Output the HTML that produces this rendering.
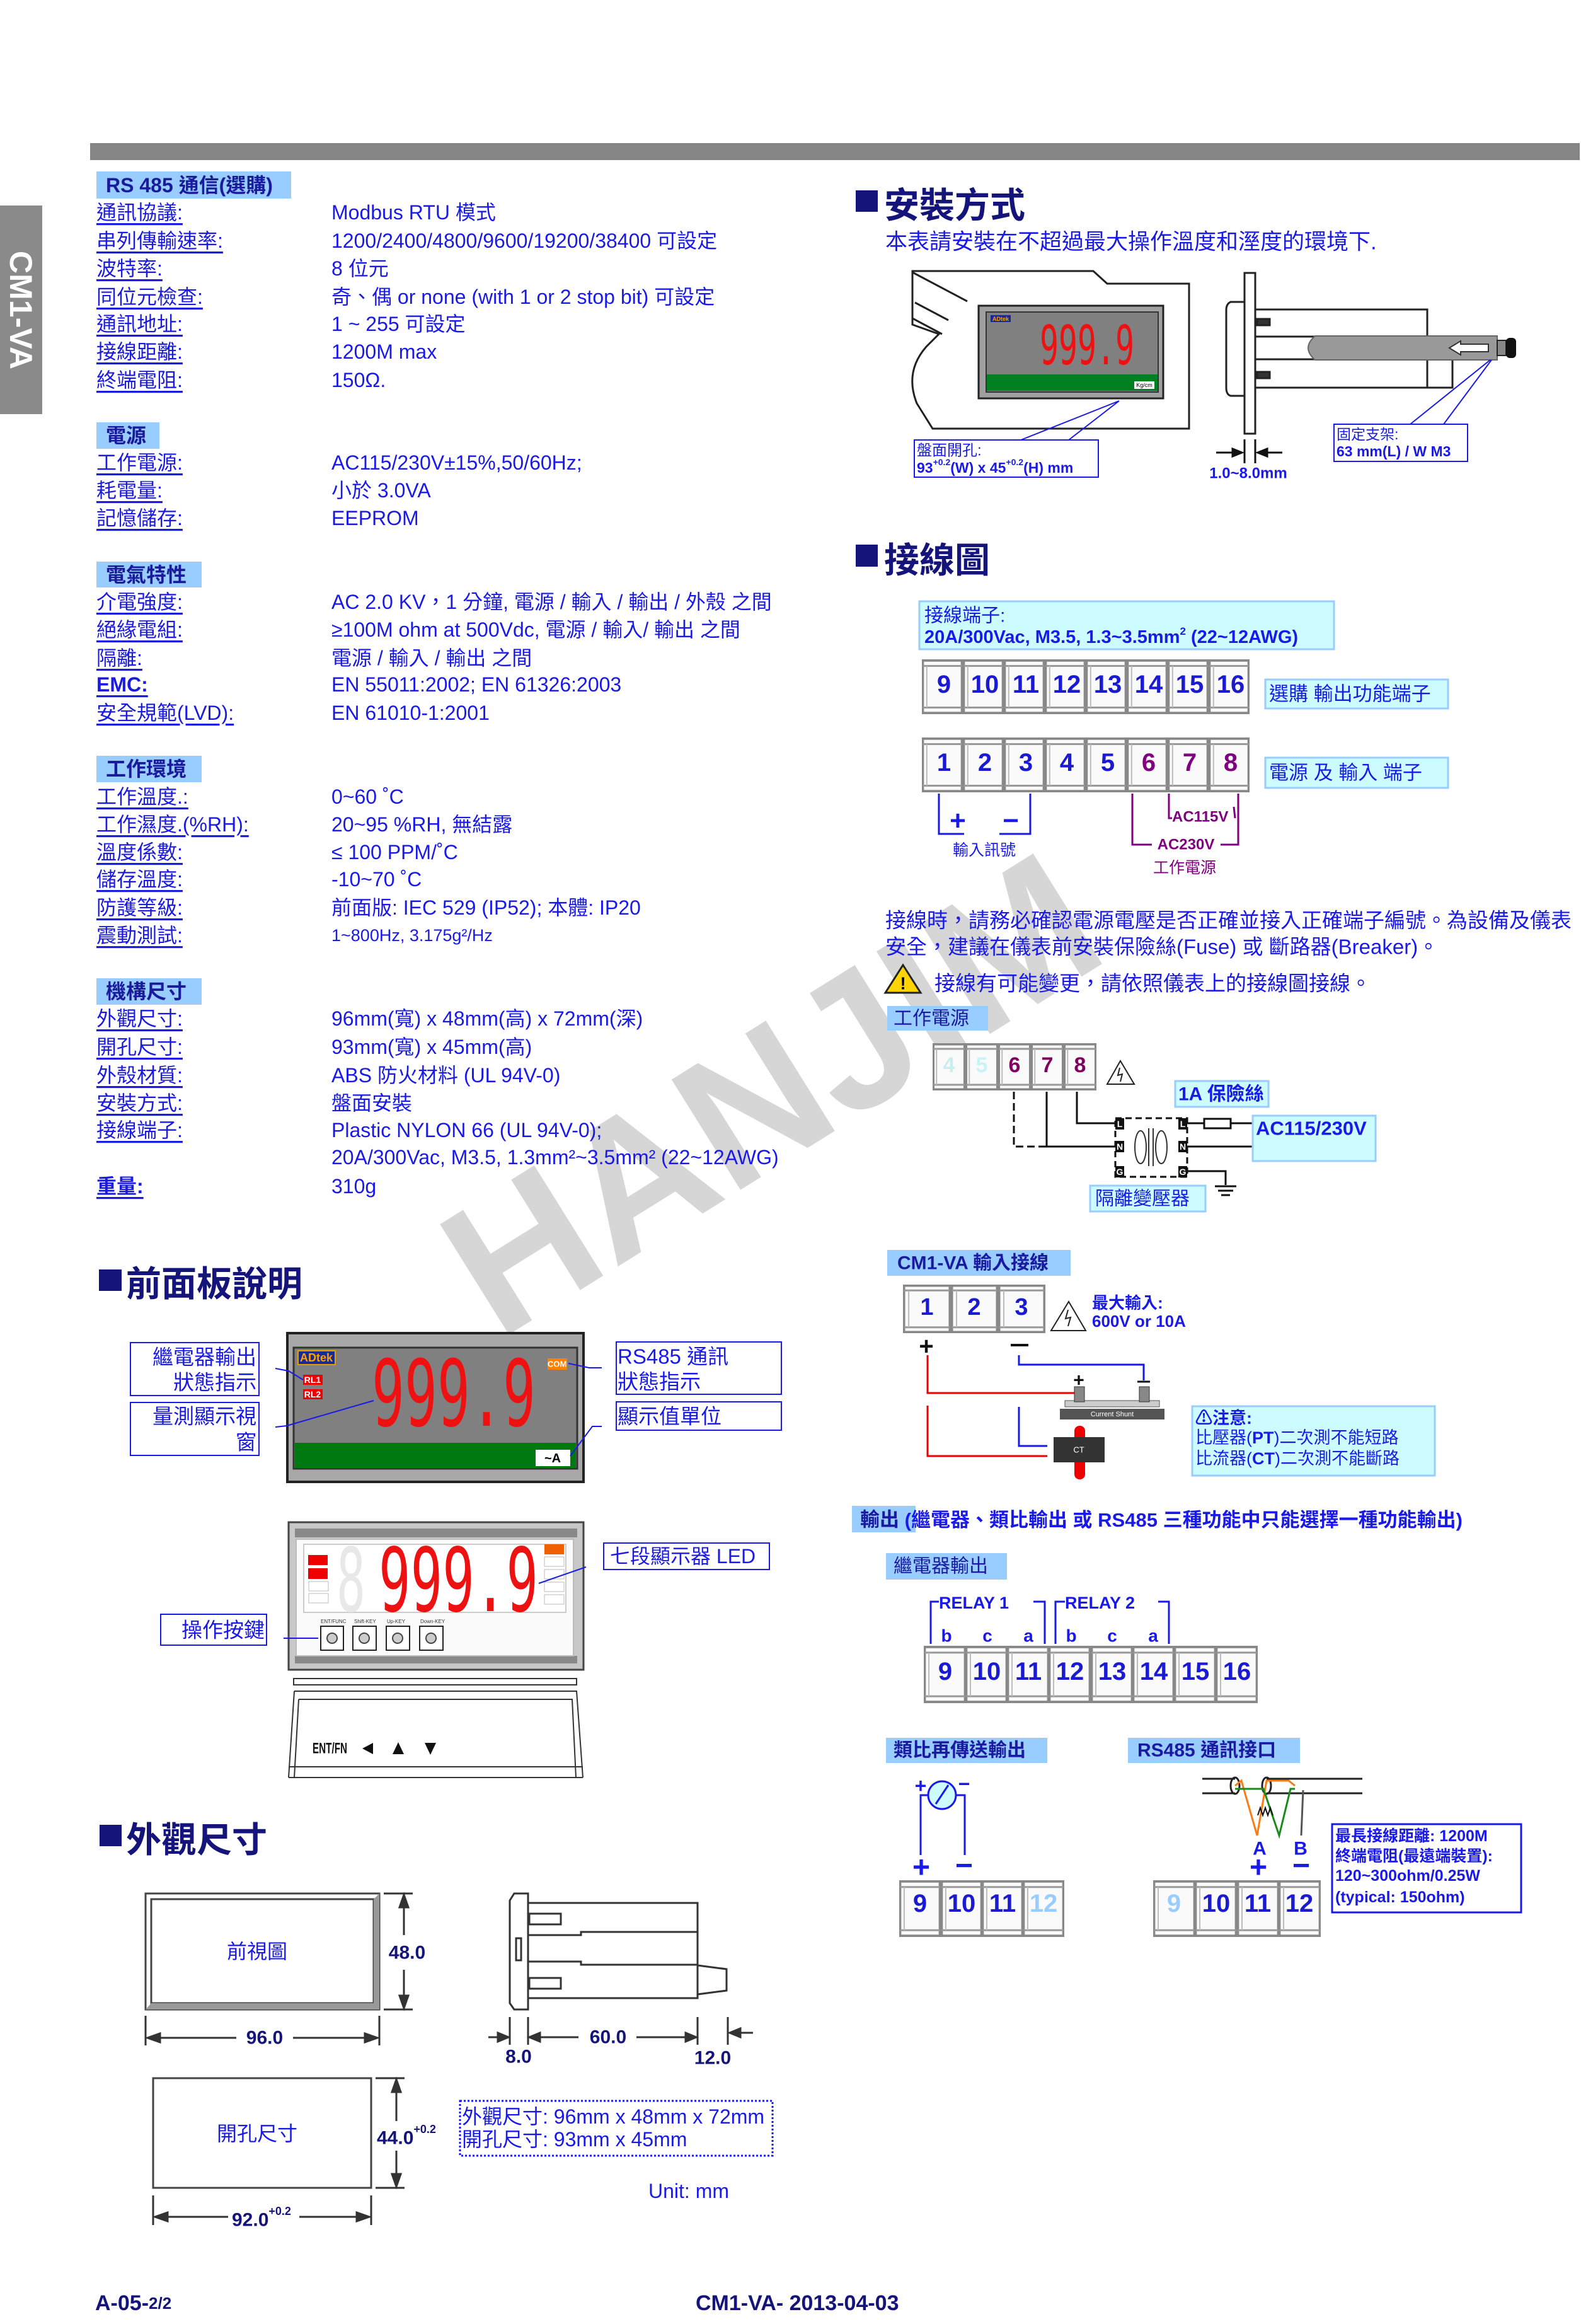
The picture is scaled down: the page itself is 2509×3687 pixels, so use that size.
<!DOCTYPE html>
<html><head><meta charset="utf-8">
<style>
html,body{margin:0;padding:0;background:#fff}
svg{display:block}
text{font-family:"Liberation Sans","Noto Sans CJK TC",sans-serif}
.lb{fill:#1a1ae0;font-size:32px;text-decoration:underline}
.v{fill:#1a1ae8;font-size:32px}
.hd{fill:#1a1a9c;font-size:32px;font-weight:bold}
.tt{fill:#14147a;font-size:56px;font-weight:bold}
.num{fill:#1a1ad0;font-size:40px;font-weight:bold}
.bl{fill:#1a1ae8}
.seg{font-family:"DejaVu Sans Mono",monospace;fill:#ee1111}
</style></head>
<body>
<svg width="2509" height="3687" viewBox="0 0 2509 3687" xmlns="http://www.w3.org/2000/svg">
<defs>
<symbol id="cell" viewBox="0 0 100 100" preserveAspectRatio="none">
<rect x="2" y="2" width="96" height="96" fill="#fafafa" stroke="#888" stroke-width="4" vector-effect="non-scaling-stroke"/>
<line x1="2" y1="12" x2="98" y2="12" stroke="#999" stroke-width="3" vector-effect="non-scaling-stroke"/>
<line x1="2" y1="88" x2="98" y2="88" stroke="#999" stroke-width="3" vector-effect="non-scaling-stroke"/>
<line x1="12" y1="12" x2="12" y2="88" stroke="#bbb" stroke-width="2" vector-effect="non-scaling-stroke"/>
</symbol>
</defs>

<!-- watermark -->
<text x="1220" y="1840" transform="rotate(-32 1220 1730)" text-anchor="middle" style="font-size:300px;font-weight:bold;fill:#d6d6d6">HANJIM</text>

<!-- top bar & tab -->
<rect x="143" y="227" width="2364" height="27" fill="#858585"/>
<rect x="0" y="326" width="67" height="331" fill="#8a8a8a"/>
<text x="33" y="492" transform="rotate(90 33 492)" text-anchor="middle" dominant-baseline="central" style="font-size:50px;font-weight:bold;fill:#fff">CM1-VA</text>

<!-- LEFT SPEC -->
<rect x="153" y="272" width="309" height="43" fill="#99ccff"/>
<text x="168" y="294" dominant-baseline="central" class="hd">RS 485 通信(選購)</text>
<g dominant-baseline="central">
<text x="153" y="337" class="lb">通訊協議:</text><text x="526" y="337" class="v">Modbus RTU  模式</text>
<text x="153" y="382" class="lb">串列傳輸速率:</text><text x="526" y="382" class="v">1200/2400/4800/9600/19200/38400 可設定</text>
<text x="153" y="426" class="lb">波特率:</text><text x="526" y="426" class="v">8 位元</text>
<text x="153" y="471" class="lb">同位元檢查:</text><text x="526" y="471" class="v">奇、偶  or none (with 1 or 2 stop bit)  可設定</text>
<text x="153" y="514" class="lb">通訊地址:</text><text x="526" y="514" class="v">1 ~ 255  可設定</text>
<text x="153" y="558" class="lb">接線距離:</text><text x="526" y="558" class="v">1200M max</text>
<text x="153" y="603" class="lb">終端電阻:</text><text x="526" y="603" class="v">150Ω.</text>
</g>
<rect x="153" y="670" width="100" height="42" fill="#99ccff"/>
<text x="168" y="691" dominant-baseline="central" class="hd">電源</text>
<g dominant-baseline="central">
<text x="153" y="734" class="lb">工作電源:</text><text x="526" y="734" class="v">AC115/230V±15%,50/60Hz;</text>
<text x="153" y="778" class="lb">耗電量:</text><text x="526" y="778" class="v">小於 3.0VA</text>
<text x="153" y="822" class="lb">記憶儲存:</text><text x="526" y="822" class="v">EEPROM</text>
</g>
<rect x="153" y="891" width="167" height="41" fill="#99ccff"/>
<text x="168" y="912" dominant-baseline="central" class="hd">電氣特性</text>
<g dominant-baseline="central">
<text x="153" y="955" class="lb">介電強度:</text><text x="526" y="955" class="v">AC 2.0 KV，1 分鐘,  電源 / 輸入 / 輸出 / 外殼  之間</text>
<text x="153" y="999" class="lb">絕緣電組:</text><text x="526" y="999" class="v">≥100M ohm at 500Vdc,  電源  /  輸入/  輸出  之間</text>
<text x="153" y="1044" class="lb">隔離:</text><text x="526" y="1044" class="v">電源  /  輸入  /  輸出  之間</text>
<text x="153" y="1086" class="lb" font-weight="bold">EMC:</text><text x="526" y="1086" class="v">EN 55011:2002; EN 61326:2003</text>
<text x="153" y="1131" class="lb">安全規範(LVD):</text><text x="526" y="1131" class="v">EN 61010-1:2001</text>
</g>
<rect x="153" y="1199" width="167" height="42" fill="#99ccff"/>
<text x="168" y="1220" dominant-baseline="central" class="hd">工作環境</text>
<g dominant-baseline="central">
<text x="153" y="1264" class="lb">工作溫度.:</text><text x="526" y="1264" class="v">0~60 ˚C</text>
<text x="153" y="1308" class="lb">工作濕度.(%RH):</text><text x="526" y="1308" class="v">20~95 %RH,  無結露</text>
<text x="153" y="1352" class="lb">溫度係數:</text><text x="526" y="1352" class="v">≤ 100 PPM/˚C</text>
<text x="153" y="1395" class="lb">儲存溫度:</text><text x="526" y="1395" class="v">-10~70 ˚C</text>
<text x="153" y="1440" class="lb">防護等級:</text><text x="526" y="1440" class="v">前面版: IEC 529 (IP52);  本體: IP20</text>
<text x="153" y="1484" class="lb">震動測試:</text><text x="526" y="1484" class="v" style="font-size:27px">1~800Hz, 3.175g²/Hz</text>
</g>
<rect x="153" y="1552" width="167" height="42" fill="#99ccff"/>
<text x="168" y="1573" dominant-baseline="central" class="hd">機構尺寸</text>
<g dominant-baseline="central">
<text x="153" y="1616" class="lb">外觀尺寸:</text><text x="526" y="1616" class="v">96mm(寬) x 48mm(高) x 72mm(深)</text>
<text x="153" y="1661" class="lb">開孔尺寸:</text><text x="526" y="1661" class="v">93mm(寬) x 45mm(高)</text>
<text x="153" y="1706" class="lb">外殼材質:</text><text x="526" y="1706" class="v">ABS  防火材料  (UL 94V-0)</text>
<text x="153" y="1750" class="lb">安裝方式:</text><text x="526" y="1750" class="v">盤面安裝</text>
<text x="153" y="1793" class="lb">接線端子:</text><text x="526" y="1793" class="v">Plastic NYLON 66 (UL 94V-0);</text>
<text x="526" y="1836" class="v">20A/300Vac, M3.5, 1.3mm²~3.5mm² (22~12AWG)</text>
<text x="153" y="1882" class="lb" font-weight="bold">重量:</text><text x="526" y="1882" class="v">310g</text>
</g>

<!-- FRONT PANEL -->
<rect x="157" y="2014" width="36" height="34" fill="#14147a"/>
<text x="200" y="2037" dominant-baseline="central" class="tt">前面板說明</text>
<rect x="456" y="2115" width="470" height="236" fill="#a8a8a8" stroke="#222" stroke-width="4"/>
<rect x="466" y="2138" width="450" height="192" fill="#808080" stroke="#333" stroke-width="3"/>
<rect x="468" y="2289" width="446" height="40" fill="#007a10"/>
<rect x="473" y="2143" width="59" height="22" fill="#1a2a90" stroke="#e0a000" stroke-width="2"/>
<text x="502" y="2154" text-anchor="middle" dominant-baseline="central" style="font-size:18px;font-weight:bold;fill:#ffa000">ADtek</text>
<rect x="481" y="2181" width="31" height="16" fill="#e00"/><text x="496" y="2189" text-anchor="middle" dominant-baseline="central" style="font-size:14px;font-weight:bold;fill:#fff">RL1</text>
<rect x="481" y="2204" width="31" height="16" fill="#e00"/><text x="496" y="2212" text-anchor="middle" dominant-baseline="central" style="font-size:14px;font-weight:bold;fill:#fff">RL2</text>
<rect x="869" y="2155" width="31" height="18" fill="#ff8000"/><text x="884" y="2164" text-anchor="middle" dominant-baseline="central" style="font-size:13px;font-weight:bold;fill:#fff">COM</text>
<text x="590" y="2262" class="seg" textLength="260" lengthAdjust="spacingAndGlyphs" style="font-size:146px">999.9</text>
<rect x="850" y="2300" width="55" height="26" fill="#fff"/><text x="877" y="2314" text-anchor="middle" dominant-baseline="central" style="font-size:20px;font-weight:bold;fill:#000">~A</text>
<g fill="none" stroke="#1a1ae8" stroke-width="2">
<rect x="207" y="2130" width="204" height="84"/><rect x="207" y="2225" width="204" height="84"/>
<rect x="978" y="2129" width="262" height="83"/><rect x="978" y="2224" width="262" height="45"/>
<path d="M437 2171 L458 2175 L481 2189"/><path d="M437 2264 L455 2262 L593 2222"/>
<path d="M902 2163 L935 2170 L955 2170"/><path d="M955 2263 L940 2263 L905 2310"/>
</g>
<g dominant-baseline="central" class="bl" style="font-size:33px" text-anchor="end">
<text x="407" y="2153">繼電器輸出</text><text x="407" y="2193">狀態指示</text>
<text x="407" y="2247">量測顯示視</text><text x="407" y="2288">窗</text>
</g>
<g dominant-baseline="central" class="bl" style="font-size:33px">
<text x="980" y="2152">RS485 通訊</text><text x="980" y="2192">狀態指示</text>
<text x="980" y="2247">顯示值單位</text>
</g>
<!-- meter 2 -->
<rect x="458" y="2415" width="468" height="234" fill="#c8c8c8" stroke="#444" stroke-width="3"/>
<rect x="468" y="2425" width="448" height="14" fill="#888"/>
<rect x="468" y="2627" width="448" height="12" fill="#888"/>
<rect x="470" y="2442" width="440" height="185" fill="#fafafa" stroke="#bbb" stroke-width="2"/>
<rect x="482" y="2450" width="416" height="108" fill="#fff" stroke="#ccc" stroke-width="2"/>
<rect x="489" y="2467" width="31" height="16" fill="#e00"/><rect x="489" y="2488" width="31" height="17" fill="#e00"/>
<rect x="490" y="2509" width="31" height="15" fill="none" stroke="#bbb"/><rect x="490" y="2528" width="31" height="15" fill="none" stroke="#bbb"/>
<rect x="864" y="2450" width="31" height="16" fill="#f06000"/>
<rect x="864" y="2470" width="31" height="15" fill="none" stroke="#bbb"/><rect x="864" y="2490" width="31" height="15" fill="none" stroke="#bbb"/><rect x="864" y="2510" width="31" height="15" fill="none" stroke="#bbb"/><rect x="864" y="2530" width="31" height="15" fill="none" stroke="#bbb"/>
<text x="534" y="2556" class="seg" textLength="46" lengthAdjust="spacingAndGlyphs" style="font-size:140px;fill:#e8e8e8">8</text>
<text x="601" y="2556" class="seg" textLength="253" lengthAdjust="spacingAndGlyphs" style="font-size:140px">999.9</text>
<g style="font-size:8px;fill:#333"><text x="509" y="2575">ENT/FUNC</text><text x="562" y="2575">Shift-KEY</text><text x="614" y="2575">Up-KEY</text><text x="667" y="2575">Down-KEY</text></g>
<g fill="#fff" stroke="#222" stroke-width="2">
<rect x="509" y="2580" width="36" height="38"/><rect x="560" y="2580" width="37" height="38"/><rect x="613" y="2580" width="37" height="38"/><rect x="666" y="2580" width="37" height="38"/>
</g>
<g fill="#ccc" stroke="#444" stroke-width="2"><circle cx="527" cy="2599" r="8"/><circle cx="578" cy="2599" r="8"/><circle cx="631" cy="2599" r="8"/><circle cx="684" cy="2599" r="8"/></g>
<rect x="958" y="2448" width="263" height="42" fill="none" stroke="#1a1ae8" stroke-width="2"/>
<text x="968" y="2469" dominant-baseline="central" class="bl" style="font-size:32px">七段顯示器 LED</text>
<line x1="930" y1="2486" x2="855" y2="2512" stroke="#1a1ae8" stroke-width="2"/>
<rect x="255" y="2561" width="168" height="49" fill="none" stroke="#1a1ae8" stroke-width="2"/>
<text x="420" y="2586" text-anchor="end" dominant-baseline="central" class="bl" style="font-size:33px">操作按鍵</text>
<line x1="450" y1="2599" x2="505" y2="2599" stroke="#1a1ae8" stroke-width="2"/>
<!-- keyboard -->
<g fill="none" stroke="#333" stroke-width="2">
<rect x="466" y="2663" width="449" height="10"/>
<path d="M467 2683 L915 2683 L925 2820 M467 2683 L458 2820"/>
<path d="M474 2696 L908 2696 L914 2820 M474 2696 L467 2820"/>
<line x1="458" y1="2803" x2="925" y2="2803"/><line x1="458" y1="2820" x2="925" y2="2820"/>
</g>
<text x="496" y="2774" dominant-baseline="central" textLength="55" lengthAdjust="spacingAndGlyphs" style="font-size:24px;font-weight:bold;fill:#111">ENT/FN</text>
<g fill="#111"><path d="M575 2774 L592 2765 L592 2783Z"/><path d="M632 2764 L623 2783 L641 2783Z"/><path d="M683 2784 L674 2765 L692 2765Z"/></g>

<!-- DIMENSIONS -->
<rect x="158" y="2895" width="35" height="34" fill="#14147a"/>
<text x="200" y="2919" dominant-baseline="central" class="tt">外觀尺寸</text>
<rect x="231" y="3004" width="371" height="184" fill="#fff" stroke="#444" stroke-width="3"/>
<rect x="240" y="3013" width="353" height="165" fill="none" stroke="#444" stroke-width="3"/>
<path d="M593 3013 L602 3004 L602 3188 L593 3178Z M240 3178 L593 3178 L602 3188 L231 3188Z" fill="#999"/>
<text x="408" y="3096" text-anchor="middle" dominant-baseline="central" class="bl" style="font-size:32px">前視圖</text>
<g stroke="#333" stroke-width="3" fill="#333">
<line x1="609" y1="3004" x2="655" y2="3004"/><line x1="609" y1="3188" x2="655" y2="3188"/>
<line x1="641" y1="3015" x2="641" y2="3070"/><line x1="641" y1="3125" x2="641" y2="3178"/>
<path d="M641 3006 L634 3026 L648 3026Z M641 3186 L634 3166 L648 3166Z"/>
<line x1="231" y1="3198" x2="231" y2="3245"/><line x1="602" y1="3198" x2="602" y2="3245"/>
<line x1="240" y1="3233" x2="375" y2="3233"/><line x1="465" y1="3233" x2="592" y2="3233"/>
<path d="M234 3233 L254 3226 L254 3240Z M599 3233 L579 3226 L579 3240Z"/>
</g>
<text x="646" y="3098" text-anchor="middle" dominant-baseline="central" style="font-size:30px;font-weight:bold;fill:#14147a">48.0</text>
<text x="420" y="3233" text-anchor="middle" dominant-baseline="central" style="font-size:30px;font-weight:bold;fill:#14147a">96.0</text>
<!-- side view -->
<g fill="#fff" stroke="#333" stroke-width="3">
<path d="M838 3004 L816 3004 L809 3015 L809 3178 L816 3188 L838 3188Z"/>
<rect x="838" y="3019" width="269" height="151"/>
<path d="M1107 3118 L1153 3124 L1153 3158 L1107 3164Z"/>
</g>
<g stroke="#333" stroke-width="3" fill="none">
<path d="M838 3070 L922 3070 L922 3065 L1107 3065"/><path d="M838 3112 L922 3112 L922 3117 L1107 3117"/>
<rect x="840" y="3036" width="50" height="17"/><rect x="840" y="3138" width="50" height="17"/>
<rect x="819" y="3075" width="8" height="35"/>
</g>
<g stroke="#333" stroke-width="3" fill="#333">
<line x1="809" y1="3200" x2="809" y2="3244"/><line x1="838" y1="3200" x2="838" y2="3244"/>
<line x1="1107" y1="3200" x2="1107" y2="3244"/><line x1="1155" y1="3200" x2="1155" y2="3244"/>
<line x1="775" y1="3232" x2="800" y2="3232"/><path d="M807 3232 L790 3225 L790 3239Z"/>
<line x1="845" y1="3232" x2="918" y2="3232"/><path d="M840 3232 L857 3225 L857 3239Z"/>
<line x1="1010" y1="3232" x2="1100" y2="3232"/><path d="M1105 3232 L1088 3225 L1088 3239Z"/>
<line x1="1165" y1="3225" x2="1195" y2="3225"/><path d="M1158 3225 L1175 3218 L1175 3232Z"/>
</g>
<g style="font-size:30px;font-weight:bold;fill:#14147a" text-anchor="middle" dominant-baseline="central">
<text x="823" y="3263">8.0</text><text x="965" y="3232">60.0</text><text x="1131" y="3265">12.0</text>
</g>
<rect x="243" y="3297" width="346" height="174" fill="#fff" stroke="#444" stroke-width="3"/>
<text x="408" y="3385" text-anchor="middle" dominant-baseline="central" class="bl" style="font-size:32px">開孔尺寸</text>
<g stroke="#333" stroke-width="3" fill="#333">
<line x1="596" y1="3297" x2="642" y2="3297"/><line x1="596" y1="3471" x2="642" y2="3471"/>
<line x1="629" y1="3308" x2="629" y2="3365"/><line x1="629" y1="3412" x2="629" y2="3461"/>
<path d="M629 3299 L622 3319 L636 3319Z M629 3469 L622 3449 L636 3449Z"/>
<line x1="243" y1="3483" x2="243" y2="3530"/><line x1="589" y1="3483" x2="589" y2="3530"/>
<line x1="252" y1="3517" x2="362" y2="3517"/><line x1="475" y1="3517" x2="580" y2="3517"/>
<path d="M246 3517 L266 3510 L266 3524Z M586 3517 L566 3510 L566 3524Z"/>
</g>
<text x="598" y="3392" dominant-baseline="central" style="font-size:30px;font-weight:bold;fill:#14147a">44.0<tspan dy="-14" style="font-size:18px">+0.2</tspan></text>
<text x="368" y="3522" dominant-baseline="central" style="font-size:30px;font-weight:bold;fill:#14147a">92.0<tspan dy="-14" style="font-size:18px">+0.2</tspan></text>
<rect x="730" y="3333" width="496" height="87" fill="none" stroke="#1a1ae8" stroke-width="3" stroke-dasharray="3,3"/>
<g class="bl" style="font-size:32px" dominant-baseline="central">
<text x="733" y="3358">外觀尺寸: 96mm x 48mm x 72mm</text>
<text x="733" y="3394">開孔尺寸: 93mm x 45mm</text>
<text x="1093" y="3476" text-anchor="middle">Unit: mm</text>
</g>
<text x="151" y="3654" dominant-baseline="central" style="font-size:34px;font-weight:bold;fill:#14147a">A-05-<tspan style="font-size:26px">2/2</tspan></text>
<text x="1104" y="3654" dominant-baseline="central" style="font-size:34px;font-weight:bold;fill:#14147a">CM1-VA- 2013-04-03</text>

<!-- RIGHT: INSTALL -->
<rect x="1358" y="302" width="35" height="34" fill="#14147a"/>
<text x="1403" y="326" dominant-baseline="central" class="tt">安裝方式</text>
<text x="1405" y="384" dominant-baseline="central" class="bl" style="font-size:35px">本表請安裝在不超過最大操作溫度和溼度的環境下.</text>
<g fill="#fff" stroke="#222" stroke-width="3">
<path d="M1448 430 L1735 430 L1757 450 L1887 450 L1887 680 L1480 680 L1455 640 Q1435 590 1470 550 L1490 530 L1448 515Z"/>
<path d="M1448 432 L1535 478 M1452 480 L1505 508 M1448 505 L1495 530"/>
</g>
<rect x="1553" y="485" width="293" height="147" fill="#a0a0a0" stroke="#222" stroke-width="3"/>
<rect x="1565" y="495" width="273" height="127" fill="#808080" stroke="#333" stroke-width="2"/>
<rect x="1566" y="594" width="271" height="26" fill="#008020"/>
<rect x="1572" y="500" width="32" height="11" fill="#1a2a90"/>
<text x="1588" y="506" text-anchor="middle" dominant-baseline="central" style="font-size:9px;font-weight:bold;fill:#ffa000">ADtek</text>
<text x="1650" y="578" class="seg" textLength="150" lengthAdjust="spacingAndGlyphs" style="font-size:86px">999.9</text>
<rect x="1800" y="605" width="32" height="12" fill="#fff"/><text x="1816" y="611" text-anchor="middle" dominant-baseline="central" style="font-size:9px">Kg/cm</text>
<rect x="1451" y="698" width="292" height="59" fill="none" stroke="#1a1ae8" stroke-width="2"/>
<path d="M1620 698 L1776 636 L1696 698" fill="none" stroke="#1a1ae8" stroke-width="2"/>
<text x="1455" y="715" dominant-baseline="central" class="bl" style="font-size:24px">盤面開孔:</text>
<text x="1455" y="742" dominant-baseline="central" style="font-size:23px;font-weight:bold;fill:#1a1ae8">93<tspan dy="-9" style="font-size:14px">+0.2</tspan><tspan dy="9">(W) x 45</tspan><tspan dy="-9" style="font-size:14px">+0.2</tspan><tspan dy="9">(H) mm</tspan></text>
<!-- side -->
<g fill="#fff" stroke="#222" stroke-width="3">
<rect x="1975" y="433" width="17" height="255"/>
<path d="M1975 479 L1953 479 Q1946 482 1946 492 L1946 615 Q1946 626 1953 628 L1975 628Z"/>
<rect x="1992" y="491" width="273" height="124"/>
<rect x="1992" y="534" width="273" height="36"/>
<rect x="2265" y="550" width="40" height="65"/>
<rect x="1995" y="506" width="20" height="10" fill="#333"/><rect x="1995" y="590" width="20" height="10" fill="#333"/>
</g>
<path d="M2087 533 L2376 533 L2376 571 L2087 571 Q2065 552 2087 533Z" fill="#999" stroke="#666" stroke-width="2"/>
<path d="M2300 552 L2318 541 L2318 546 L2362 546 L2362 558 L2318 558 L2318 563Z" fill="#fff" stroke="#333" stroke-width="2"/>
<rect x="2376" y="540" width="14" height="24" fill="#888" stroke="#222" stroke-width="2"/>
<rect x="2390" y="536" width="16" height="32" rx="6" fill="#111"/>
<path d="M2238 673 L2365 571 M2291 673 L2367 571" stroke="#1a1ae8" stroke-width="2" fill="none"/>
<rect x="2117" y="673" width="212" height="59" fill="#fff" stroke="#1a1ae8" stroke-width="2"/>
<text x="2121" y="689" dominant-baseline="central" class="bl" style="font-size:23px">固定支架:</text>
<text x="2121" y="716" dominant-baseline="central" style="font-size:23px;font-weight:bold;fill:#1a1ae8">63 mm(L) / W M3</text>
<g stroke="#111" stroke-width="3" fill="#111">
<line x1="1975" y1="697" x2="1975" y2="735"/><line x1="1992" y1="697" x2="1992" y2="735"/>
<line x1="1930" y1="718" x2="1960" y2="718"/><path d="M1971 718 L1956 712 L1956 724Z"/>
<line x1="2005" y1="718" x2="2035" y2="718"/><path d="M1996 718 L2011 712 L2011 724Z"/>
</g>
<text x="1981" y="751" text-anchor="middle" dominant-baseline="central" style="font-size:24px;font-weight:bold;fill:#1a1ae8">1.0~8.0mm</text>

<!-- WIRING -->
<rect x="1358" y="864" width="35" height="35" fill="#14147a"/>
<text x="1403" y="889" dominant-baseline="central" class="tt">接線圖</text>
<rect x="1459" y="954" width="658" height="76" fill="#ccfcff" stroke="#99ccff" stroke-width="3"/>
<text x="1467" y="977" dominant-baseline="central" class="bl" style="font-size:30px">接線端子:</text>
<text x="1467" y="1011" dominant-baseline="central" style="font-size:29px;font-weight:bold;fill:#1a1ae8">20A/300Vac, M3.5, 1.3~3.5mm<tspan dy="-10" style="font-size:17px">2</tspan><tspan dy="10"> (22~12AWG)</tspan></text>
<g>
<use href="#cell" x="1463" y="1046" width="65" height="87"/><use href="#cell" x="1528" y="1046" width="65" height="87"/><use href="#cell" x="1593" y="1046" width="65" height="87"/><use href="#cell" x="1658" y="1046" width="65" height="87"/><use href="#cell" x="1723" y="1046" width="65" height="87"/><use href="#cell" x="1788" y="1046" width="65" height="87"/><use href="#cell" x="1853" y="1046" width="65" height="87"/><use href="#cell" x="1918" y="1046" width="65" height="87"/>
<use href="#cell" x="1463" y="1170" width="65" height="87"/><use href="#cell" x="1528" y="1170" width="65" height="87"/><use href="#cell" x="1593" y="1170" width="65" height="87"/><use href="#cell" x="1658" y="1170" width="65" height="87"/><use href="#cell" x="1723" y="1170" width="65" height="87"/><use href="#cell" x="1788" y="1170" width="65" height="87"/><use href="#cell" x="1853" y="1170" width="65" height="87"/><use href="#cell" x="1918" y="1170" width="65" height="87"/>
</g>
<g class="num" text-anchor="middle" dominant-baseline="central">
<text x="1498" y="1086">9</text><text x="1563" y="1086">10</text><text x="1628" y="1086">11</text><text x="1693" y="1086">12</text><text x="1758" y="1086">13</text><text x="1823" y="1086">14</text><text x="1888" y="1086">15</text><text x="1953" y="1086">16</text>
<text x="1498" y="1210">1</text><text x="1563" y="1210">2</text><text x="1628" y="1210">3</text><text x="1693" y="1210">4</text><text x="1758" y="1210">5</text>
<text x="1823" y="1210" style="fill:#800080">6</text><text x="1888" y="1210" style="fill:#800080">7</text><text x="1953" y="1210" style="fill:#800080">8</text>
</g>
<rect x="2008" y="1078" width="290" height="46" fill="#ccfcff" stroke="#99ccff" stroke-width="3"/>
<text x="2014" y="1101" dominant-baseline="central" class="bl" style="font-size:31px">選購  輸出功能端子</text>
<rect x="2008" y="1202" width="290" height="48" fill="#ccfcff" stroke="#99ccff" stroke-width="3"/>
<text x="2014" y="1226" dominant-baseline="central" class="bl" style="font-size:31px">電源  及  輸入  端子</text>
<path d="M1490 1259 L1490 1323 L1530 1323 M1586 1323 L1635 1323 L1635 1259" fill="none" stroke="#1a1ae8" stroke-width="3"/>
<text x="1520" y="1302" text-anchor="middle" dominant-baseline="central" style="font-size:44px;font-weight:bold;fill:#1a1ae8">+</text>
<text x="1604" y="1302" text-anchor="middle" dominant-baseline="central" style="font-size:44px;font-weight:bold;fill:#1a1ae8">−</text>
<text x="1562" y="1349" text-anchor="middle" dominant-baseline="central" class="bl" style="font-size:25px">輸入訊號</text>
<path d="M1797 1259 L1797 1340 L1828 1340 M1937 1340 L1965 1340 L1965 1259 M1855 1259 L1855 1298 L1860 1298" fill="none" stroke="#800080" stroke-width="3"/>
<path d="M1958 1280 L1960 1298" stroke="#800080" stroke-width="3"/>
<text x="1860" y="1296" dominant-baseline="central" style="font-size:24px;font-weight:bold;fill:#800080">AC115V</text>
<text x="1882" y="1340" text-anchor="middle" dominant-baseline="central" style="font-size:24px;font-weight:bold;fill:#800080">AC230V</text>
<text x="1880" y="1377" text-anchor="middle" dominant-baseline="central" style="font-size:25px;fill:#800080">工作電源</text>

<g class="bl" style="font-size:33px" dominant-baseline="central">
<text x="1405" y="1460">接線時，請務必確認電源電壓是否正確並接入正確端子編號。為設備及儀表</text>
<text x="1405" y="1502">安全，建議在儀表前安裝保險絲(Fuse)  或  斷路器(Breaker)。</text>
<text x="1483" y="1560">接線有可能變更，請依照儀表上的接線圖接線。</text>
</g>
<path d="M1433 1531 L1461 1575 L1405 1575Z" fill="#ffd400" stroke="#222" stroke-width="3"/>
<text x="1433" y="1560" text-anchor="middle" dominant-baseline="central" style="font-size:28px;font-weight:bold">!</text>
<rect x="1408" y="1596" width="160" height="39" fill="#99ccff"/>
<text x="1418" y="1616" dominant-baseline="central" class="bl" style="font-size:30px;fill:#1a1aa0">工作電源</text>
<g>
<use href="#cell" x="1480" y="1655" width="52" height="75"/><use href="#cell" x="1532" y="1655" width="52" height="75"/><use href="#cell" x="1584" y="1655" width="52" height="75"/><use href="#cell" x="1636" y="1655" width="52" height="75"/><use href="#cell" x="1688" y="1655" width="52" height="75"/>
</g>
<g text-anchor="middle" dominant-baseline="central" style="font-size:34px;font-weight:bold">
<text x="1506" y="1690" style="fill:#c8eef0">4</text><text x="1558" y="1690" style="fill:#c8f4f8">5</text>
<text x="1610" y="1690" style="fill:#800060">6</text><text x="1662" y="1690" style="fill:#800060">7</text><text x="1714" y="1690" style="fill:#800060">8</text>
</g>
<path d="M1778 1683 L1800 1720 L1757 1720Z" fill="#fff" stroke="#222" stroke-width="2"/>
<path d="M1777 1694 L1774 1706 L1781 1704 L1778 1716" fill="none" stroke="#222" stroke-width="2"/>
<g fill="none" stroke="#111" stroke-width="3">
<path d="M1609 1732 L1609 1819 L1661 1819" stroke-dasharray="12,6"/>
<path d="M1661 1732 L1661 1819 L1770 1819"/>
<path d="M1709 1732 L1709 1782 L1770 1782"/>
<path d="M1884 1782 L1911 1782 M1953 1782 L1988 1782 M1884 1819 L1988 1819 M1884 1858 L1945 1858 L1945 1880"/>
<rect x="1911" y="1775" width="42" height="15"/>
<path d="M1928 1882 L1962 1882 M1933 1889 L1957 1889 M1938 1896 L1952 1896"/>
</g>
<rect x="1770" y="1774" width="114" height="93" fill="none" stroke="#111" stroke-width="3" stroke-dasharray="10,6"/>
<g fill="#111"><rect x="1770" y="1774" width="14" height="18"/><rect x="1870" y="1774" width="14" height="18"/><rect x="1770" y="1810" width="14" height="18"/><rect x="1870" y="1810" width="14" height="18"/><rect x="1770" y="1850" width="14" height="18"/><rect x="1870" y="1850" width="14" height="18"/></g>
<g text-anchor="middle" dominant-baseline="central" style="font-size:14px;font-weight:bold;fill:#fff">
<text x="1777" y="1783">L</text><text x="1877" y="1783">L</text><text x="1777" y="1819">N</text><text x="1877" y="1819">N</text><text x="1777" y="1859">G</text><text x="1877" y="1859">G</text></g>
<g fill="none" stroke="#333" stroke-width="2"><ellipse cx="1810" cy="1820" rx="9" ry="26"/><ellipse cx="1843" cy="1820" rx="9" ry="26"/><line x1="1823" y1="1790" x2="1823" y2="1850"/><line x1="1830" y1="1790" x2="1830" y2="1850"/></g>
<rect x="1865" y="1715" width="148" height="41" fill="#ccfcff" stroke="#99ccff" stroke-width="3"/>
<text x="1870" y="1736" dominant-baseline="central" style="font-size:30px;font-weight:bold;fill:#1a1ae8">1A 保險絲</text>
<rect x="1988" y="1770" width="195" height="72" fill="#ccfcff" stroke="#99ccff" stroke-width="3"/>
<text x="1993" y="1790" dominant-baseline="central" style="font-size:31px;font-weight:bold;fill:#1a1ae8">AC115/230V</text>
<rect x="1730" y="1881" width="183" height="41" fill="#ccfcff" stroke="#99ccff" stroke-width="3"/>
<text x="1738" y="1902" dominant-baseline="central" class="bl" style="font-size:30px">隔離變壓器</text>

<rect x="1408" y="1983" width="291" height="41" fill="#99ccff"/>
<text x="1424" y="2004" dominant-baseline="central" style="font-size:30px;font-weight:bold;fill:#1a1aa0">CM1-VA 輸入接線</text>
<use href="#cell" x="1433" y="2038" width="76" height="77"/><use href="#cell" x="1509" y="2038" width="75" height="77"/><use href="#cell" x="1584" y="2038" width="75" height="77"/>
<g class="num" text-anchor="middle" dominant-baseline="central" style="font-size:38px"><text x="1471" y="2074">1</text><text x="1546" y="2074">2</text><text x="1621" y="2074">3</text></g>
<path d="M1696 2065 L1723 2111 L1668 2111Z" fill="#fff" stroke="#222" stroke-width="2"/>
<path d="M1695 2078 L1691 2092 L1699 2090 L1695 2104" fill="none" stroke="#222" stroke-width="2"/>
<text x="1733" y="2067" dominant-baseline="central" style="font-size:26px;font-weight:bold;fill:#1a1ae8">最大輸入:</text>
<text x="1733" y="2096" dominant-baseline="central" style="font-size:26px;font-weight:bold;fill:#1a1ae8">600V or 10A</text>
<text x="1470" y="2136" text-anchor="middle" dominant-baseline="central" style="font-size:40px;font-weight:bold;fill:#111">+</text>
<line x1="1604" y1="2134" x2="1632" y2="2134" stroke="#111" stroke-width="4"/>
<g fill="none" stroke-width="3">
<path d="M1472 2150 L1472 2210 L1712 2210" stroke="#e00"/>
<path d="M1617 2150 L1617 2165 L1815 2165 L1815 2190" stroke="#1a1ae8"/>
<path d="M1472 2230 L1472 2310 L1662 2310" stroke="#e00"/>
<path d="M1617 2232 L1617 2294 L1662 2294" stroke="#1a1ae8"/>
</g>
<text x="1712" y="2190" text-anchor="middle" dominant-baseline="central" style="font-size:30px;font-weight:bold;fill:#111">+</text>
<line x1="1805" y1="2192" x2="1825" y2="2192" stroke="#111" stroke-width="3"/>
<rect x="1682" y="2235" width="166" height="17" fill="#555"/>
<rect x="1690" y="2222" width="150" height="10" fill="#ccc" stroke="#555"/>
<rect x="1705" y="2200" width="16" height="24" fill="#888" stroke="#333"/><rect x="1808" y="2200" width="16" height="24" fill="#888" stroke="#333"/>
<text x="1765" y="2244" text-anchor="middle" dominant-baseline="central" style="font-size:11px;fill:#fff">Current Shunt</text>
<rect x="1705" y="2262" width="17" height="85" rx="8" fill="#e00"/>
<rect x="1672" y="2280" width="81" height="40" fill="#333"/>
<text x="1712" y="2300" text-anchor="middle" dominant-baseline="central" style="font-size:13px;fill:#fff">CT</text>
<rect x="1892" y="2231" width="385" height="110" fill="#ccfcff" stroke="#99ccff" stroke-width="3"/>
<g dominant-baseline="central" style="font-size:27px;fill:#1a1ae8">
<text x="1897" y="2250" font-weight="bold">⚠注意:</text>
<text x="1897" y="2281">比壓器(<tspan font-weight="bold">PT</tspan>)二次測不能短路</text>
<text x="1897" y="2314">比流器(<tspan font-weight="bold">CT</tspan>)二次測不能斷路</text>
</g>

<rect x="1352" y="2389" width="101" height="42" fill="#99ccff"/>
<text x="1365" y="2411" dominant-baseline="central" style="font-size:31px;font-weight:bold;fill:#1a1aa0">輸出 <tspan style="fill:#1a1ae8">(繼電器、類比輸出  或  RS485  三種功能中只能選擇一種功能輸出)</tspan></text>
<rect x="1406" y="2464" width="192" height="42" fill="#99ccff"/>
<text x="1418" y="2485" dominant-baseline="central" style="font-size:30px;fill:#1a1aa0">繼電器輸出</text>
<path d="M1477 2608 L1477 2541 L1490 2541 M1640 2541 L1658 2541 L1658 2608 M1675 2608 L1675 2541 L1690 2541 M1838 2541 L1855 2541 L1855 2608" fill="none" stroke="#1a1ae8" stroke-width="3"/>
<g style="font-size:27px;font-weight:bold;fill:#1a1ae8" dominant-baseline="central">
<text x="1490" y="2543">RELAY 1</text><text x="1690" y="2543">RELAY 2</text>
</g>
<g style="font-size:28px;font-weight:bold;fill:#1a1ae8" dominant-baseline="central" text-anchor="middle">
<text x="1502" y="2595">b</text><text x="1567" y="2595">c</text><text x="1632" y="2595">a</text>
<text x="1700" y="2595">b</text><text x="1765" y="2595">c</text><text x="1830" y="2595">a</text>
</g>
<g>
<use href="#cell" x="1466" y="2611" width="67" height="91"/><use href="#cell" x="1532" y="2611" width="67" height="91"/><use href="#cell" x="1598" y="2611" width="67" height="91"/><use href="#cell" x="1664" y="2611" width="67" height="91"/><use href="#cell" x="1731" y="2611" width="67" height="91"/><use href="#cell" x="1797" y="2611" width="67" height="91"/><use href="#cell" x="1863" y="2611" width="67" height="91"/><use href="#cell" x="1929" y="2611" width="67" height="91"/>
</g>
<g class="num" text-anchor="middle" dominant-baseline="central">
<text x="1500" y="2652">9</text><text x="1566" y="2652">10</text><text x="1632" y="2652">11</text><text x="1698" y="2652">12</text><text x="1765" y="2652">13</text><text x="1831" y="2652">14</text><text x="1897" y="2652">15</text><text x="1963" y="2652">16</text>
</g>
<rect x="1406" y="2757" width="256" height="40" fill="#99ccff"/>
<text x="1418" y="2777" dominant-baseline="central" style="font-size:30px;font-weight:bold;fill:#1a1aa0">類比再傳送輸出</text>
<rect x="1790" y="2757" width="273" height="40" fill="#99ccff"/>
<text x="1805" y="2777" dominant-baseline="central" style="font-size:30px;font-weight:bold;fill:#1a1aa0">RS485  通訊接口</text>
<!-- analog -->
<circle cx="1495" cy="2848" r="22" fill="#ccfcff" stroke="#1a1ae8" stroke-width="3"/>
<path d="M1485 2862 L1505 2832" stroke="#1a1ae8" stroke-width="3"/>
<path d="M1461 2943 L1461 2848 L1473 2848 M1517 2848 L1531 2848 L1531 2943" fill="none" stroke="#1a1ae8" stroke-width="3"/>
<text x="1461" y="2833" text-anchor="middle" dominant-baseline="central" style="font-size:32px;font-weight:bold;fill:#1a1ae8">+</text>
<text x="1530" y="2830" text-anchor="middle" dominant-baseline="central" style="font-size:32px;font-weight:bold;fill:#1a1ae8">−</text>
<text x="1462" y="2963" text-anchor="middle" dominant-baseline="central" style="font-size:48px;font-weight:bold;fill:#1a1ae8">+</text>
<text x="1530" y="2960" text-anchor="middle" dominant-baseline="central" style="font-size:48px;font-weight:bold;fill:#1a1ae8">−</text>
<use href="#cell" x="1427" y="2983" width="66" height="90"/><use href="#cell" x="1493" y="2983" width="66" height="90"/><use href="#cell" x="1558" y="2983" width="66" height="90"/><use href="#cell" x="1623" y="2983" width="66" height="90"/>
<g class="num" text-anchor="middle" dominant-baseline="central">
<text x="1460" y="3020">9</text><text x="1526" y="3020">10</text><text x="1591" y="3020">11</text><text x="1656" y="3020" style="fill:#99ccff">12</text>
</g>
<!-- rs485 -->
<g fill="none" stroke-width="3">
<path d="M1908 2822 L1960 2822 M1908 2845 L1960 2845 M2010 2822 L2162 2822 M2010 2845 L2162 2845" stroke="#222"/>
<ellipse cx="1960" cy="2833" rx="7" ry="13" stroke="#222"/><ellipse cx="2010" cy="2833" rx="7" ry="13" stroke="#222"/>
<path d="M1960 2833 L1970 2825 L1995 2912 L2010 2825 L2045 2825 L2055 2833" stroke="#ff7a10"/>
<path d="M1960 2838 L2005 2838 L2030 2912 L2048 2838 L2055 2838" stroke="#1a8a1a"/>
<path d="M2068 2840 L2065 2912" stroke="#555"/>
<path d="M1996 2880 L2000 2868 L2004 2880 L2008 2868 L2012 2880 L2016 2868 L2020 2880" stroke="#111" stroke-width="2"/>
</g>
<g text-anchor="middle" dominant-baseline="central" style="font-weight:bold;fill:#1a1ae8">
<text x="1999" y="2933" style="font-size:30px">A</text><text x="2064" y="2933" style="font-size:30px">B</text>
<text x="1997" y="2963" style="font-size:48px">+</text><text x="2065" y="2960" style="font-size:48px">−</text>
</g>
<use href="#cell" x="1830" y="2983" width="67" height="90"/><use href="#cell" x="1896" y="2983" width="67" height="90"/><use href="#cell" x="1963" y="2983" width="67" height="90"/><use href="#cell" x="2029" y="2983" width="67" height="90"/>
<g class="num" text-anchor="middle" dominant-baseline="central">
<text x="1863" y="3020" style="fill:#99ccff">9</text><text x="1930" y="3020">10</text><text x="1996" y="3020">11</text><text x="2062" y="3020">12</text>
</g>
<rect x="2114" y="2894" width="300" height="140" fill="#fff" stroke="#1a1ae8" stroke-width="3"/>
<g dominant-baseline="central" style="font-size:25px;font-weight:bold;fill:#1a1ae8">
<text x="2119" y="2913">最長接線距離: 1200M</text>
<text x="2119" y="2945">終端電阻(最遠端裝置):</text>
<text x="2119" y="2976">120~300ohm/0.25W</text>
<text x="2119" y="3010">(typical: 150ohm)</text>
</g>
</svg>
</body></html>
